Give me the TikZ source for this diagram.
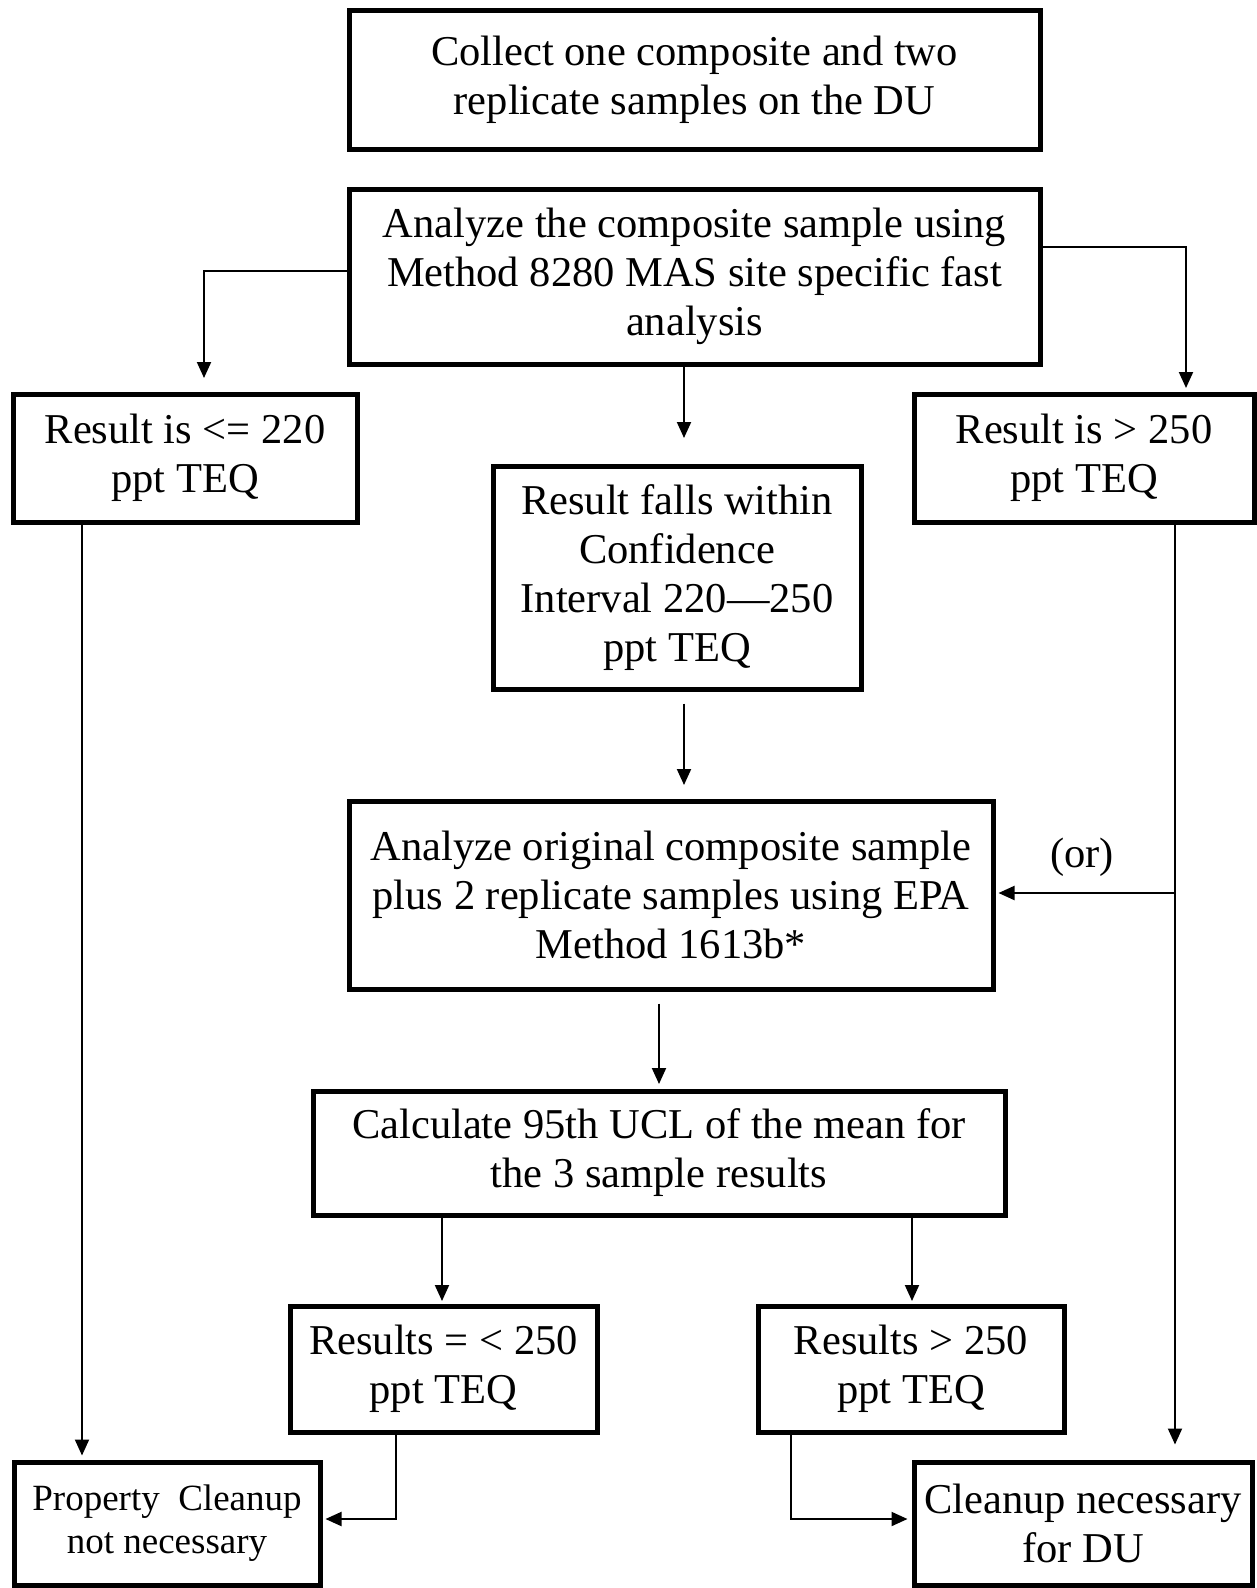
\documentclass[tikz,border=0pt]{standalone}
\usepackage{fontspec}
\setmainfont{Liberation Serif}
\usetikzlibrary{arrows.meta,calc}
\begin{document}
\begin{tikzpicture}[x=1pt,y=-1pt,
  box/.style={draw, line width=5pt, inner sep=0pt, align=center, font=\fontsize{42.5}{49}\selectfont},
  conn/.style={line width=2pt},
  arr/.style={line width=2pt, -{Triangle[length=16pt,width=14pt]}}]
\useasboundingbox[fill=white] (0,0) rectangle (1257,1588);

\node[box, minimum width=691, minimum height=139] (collect) at (694.5,79.5)
  {Collect one composite and two\\replicate samples on the DU};
\node[box, minimum width=691, minimum height=175] (fast) at (694.5,276.5)
  {Analyze the composite sample using\\Method 8280 MAS site specific fast\\analysis};
\node[box, minimum width=344, minimum height=128] (low) at (185,458)
  {Result is <= 220\\ppt TEQ};
\node[box, minimum width=340, minimum height=128] (high) at (1084,458)
  {Result is > 250\\ppt TEQ};
\node[box, minimum width=368, minimum height=223] (mid) at (677,577.5)
  {Result falls within\\Confidence\\Interval 220—250\\ppt TEQ};
\node[box, minimum width=644, minimum height=188] (epa) at (671,895)
  {Analyze original composite sample\\plus 2 replicate samples using EPA\\Method 1613b*};
\node[box, minimum width=692, minimum height=124] (ucl) at (659,1153)
  {Calculate 95th UCL of the mean for\\the 3 sample results};
\node[box, minimum width=307, minimum height=126] (rlow) at (443.5,1369)
  {Results = < 250\\ppt TEQ};
\node[box, minimum width=306, minimum height=126] (rhigh) at (911,1369)
  {Results > 250\\ppt TEQ};
\node[box, minimum width=306, minimum height=123, font=\fontsize{37}{43}\selectfont] (notnec) at (167,1523.5)
  {Property\ \ Cleanup\\not necessary};
\node[box, minimum width=338, minimum height=123] (nec) at (1083,1523.5)
  {Cleanup necessary\\for DU};

\node[font=\fontsize{42.5}{49}\selectfont] (or) at (1082,857) {(or)};

% coordinates for connector ends
\coordinate (lA) at (204,378);
\coordinate (rA) at (1186,388);
\coordinate (cA) at (684,438);
\coordinate (cB) at (684,785);
\coordinate (cC) at (659,1084);
\coordinate (dL) at (442,1301);
\coordinate (dR) at (912,1301);
\coordinate (jR) at (1175,893);

\draw[arr] (fast.west |- 0,271) -| (lA);
\draw[arr] (fast.east |- 0,247) -| (rA);
\draw[arr] (fast.south -| cA) -- (cA);
\draw[arr] (mid.south -| cB) ++(0,12) -- (cB);
\draw[arr] (epa.south -| cC) ++(0,12) -- (cC);
\draw[arr] (ucl.south -| dL) -- (dL);
\draw[arr] (ucl.south -| dR) -- (dR);

\draw[arr] (low.south -| 82,0) -- ($(notnec.north -| 82,0)+(0,-4)$);
\draw[arr] (high.south -| 1175,0) -- ($(nec.north -| 1175,0)+(0,-15)$);
\draw[arr] (jR) -- ($(epa.east |- jR)+(3,0)$);

\draw[arr] (rlow.south -| 396,0) |- ($(notnec.east |- 0,1519)+(3,0)$);
\draw[arr] (rhigh.south -| 791,0) |- ($(nec.west |- 0,1519)+(-4,0)$);
\end{tikzpicture}
\end{document}
